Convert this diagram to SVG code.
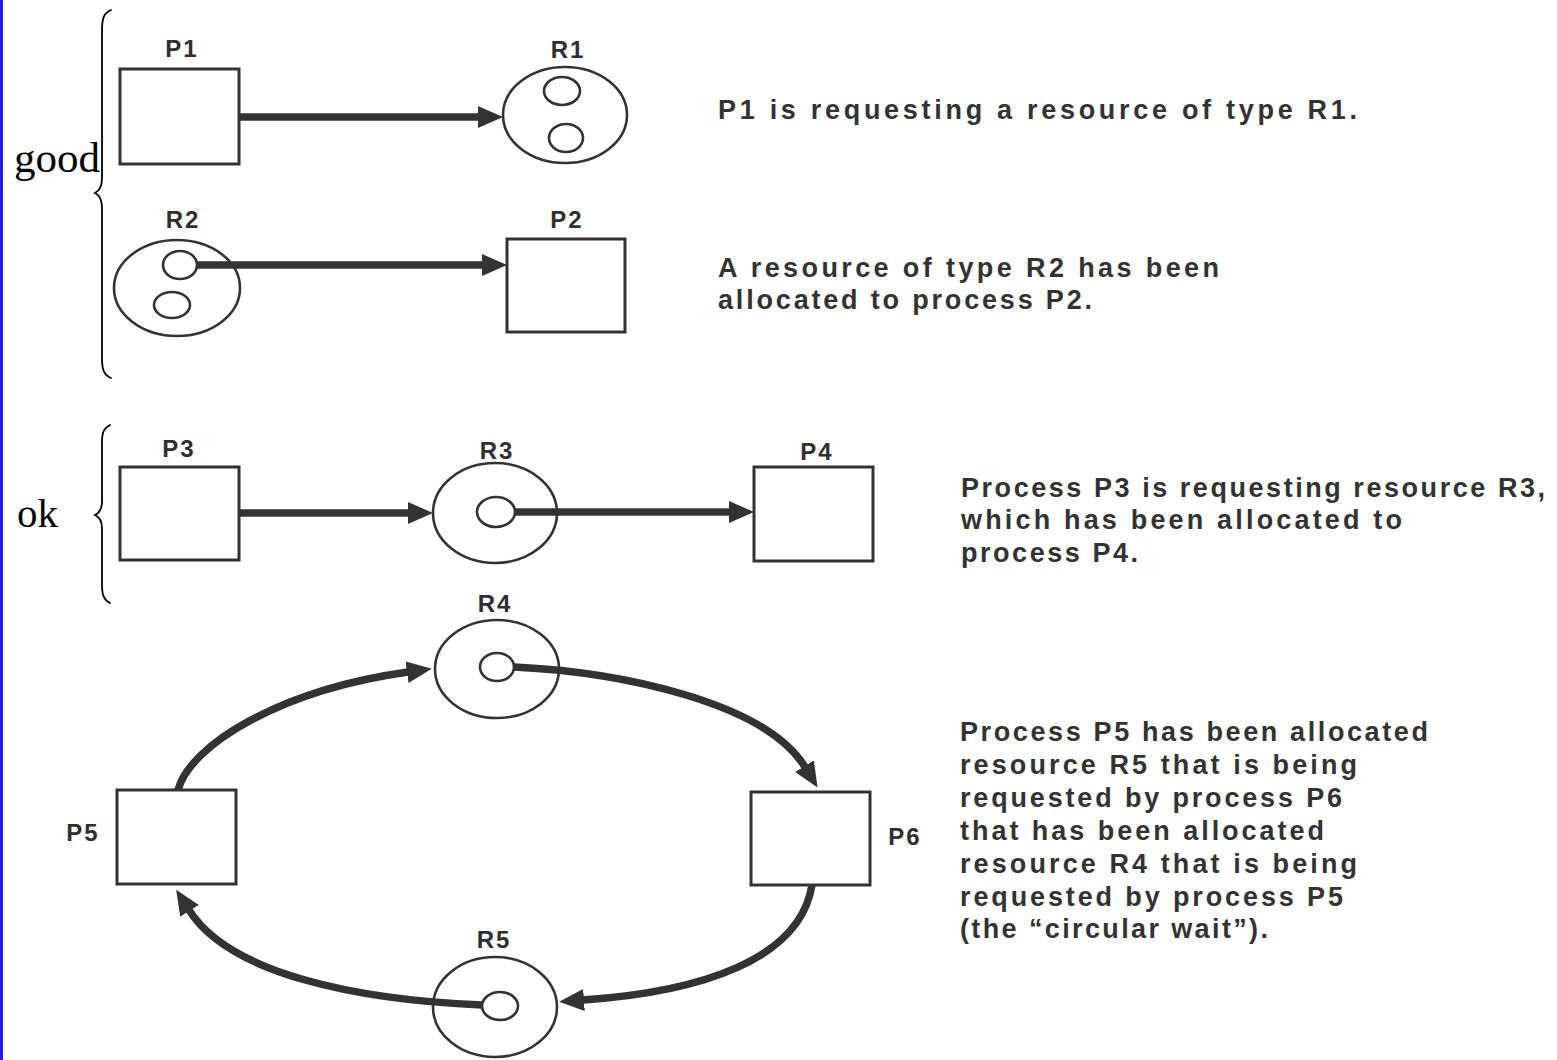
<svg xmlns="http://www.w3.org/2000/svg" width="1557" height="1060" viewBox="0 0 1557 1060">
  <defs>
    <style>
      .box { fill: #ffffff; stroke: #333333; stroke-width: 3; }
      .res { fill: #ffffff; stroke: #333333; stroke-width: 2.6; }
      .unit { fill: #ffffff; stroke: #333333; stroke-width: 2.6; }
      .edge { fill: none; stroke: #333333; stroke-width: 7.5; marker-end: url(#head); }
      .label { font-family: "Liberation Sans", Arial, sans-serif; font-weight: bold; font-size: 24px; fill: #2f2f2f; letter-spacing: 2px; }
      .note { font-family: "Liberation Sans", Arial, sans-serif; font-weight: bold; font-size: 27px; fill: #333333; }
      .hand { font-family: "Liberation Serif", "Times New Roman", serif; fill: #000000; }
      .brace { fill: none; stroke: #000000; stroke-width: 1.8; stroke-linecap: round; }
    </style>
    <marker id="head" viewBox="0 0 25 22" refX="1" refY="11" markerWidth="25" markerHeight="22" markerUnits="userSpaceOnUse" orient="auto">
      <path d="M0,0 L25,11 L0,22 z" fill="#333333"/>
    </marker>
  </defs>

  <rect x="0" y="0" width="1557" height="1060" fill="#ffffff"/>
  <rect x="0" y="0" width="3" height="1060" fill="#1a1aff"/>

  <!-- side annotations -->
  <g id="note-good">
    <path class="brace" d="M111,10 C104,13 102,18 102,30 L102,178 C102,187 99,191 95,193 C99,195 102,199 102,208 L102,358 C102,370 104,375 111,378"/>
    <text class="hand" x="14" y="172" font-size="43">good</text>
  </g>
  <g id="note-ok">
    <path class="brace" d="M110,425 C104,428 102,432 102,442 L102,502 C102,510 99,513 95,515 C99,517 102,520 102,528 L102,585 C102,595 104,600 110,603"/>
    <text class="hand" x="17" y="527" font-size="41">ok</text>
  </g>

  <!-- request edge P1 -> R1 -->
  <g id="P1">
    <rect class="box" x="120" y="69" width="119" height="95"/>
    <text class="label" x="182" y="57" text-anchor="middle">P1</text>
  </g>
  <g id="R1">
    <ellipse class="res" cx="565" cy="115" rx="62" ry="48"/>
    <ellipse class="unit" cx="562" cy="91" rx="18" ry="14"/>
    <ellipse class="unit" cx="566" cy="138" rx="17" ry="14"/>
    <text class="label" x="568" y="58" text-anchor="middle">R1</text>
  </g>

  <!-- assignment edge R2 -> P2 -->
  <g id="R2">
    <ellipse class="res" cx="177" cy="288" rx="63" ry="48"/>
    <ellipse class="unit" cx="180" cy="265" rx="17" ry="14"/>
    <ellipse class="unit" cx="172" cy="305" rx="18" ry="13"/>
    <text class="label" x="183" y="228" text-anchor="middle">R2</text>
  </g>
  <g id="P2">
    <rect class="box" x="507" y="239" width="118" height="93"/>
    <text class="label" x="567" y="228" text-anchor="middle">P2</text>
  </g>

  <!-- P3 waits on R3 held by P4 -->
  <g id="P3">
    <rect class="box" x="120" y="467" width="119" height="93"/>
    <text class="label" x="179" y="457" text-anchor="middle">P3</text>
  </g>
  <g id="R3">
    <ellipse class="res" cx="495" cy="513" rx="62" ry="50"/>
    <ellipse class="unit" cx="496" cy="512" rx="19" ry="15"/>
    <text class="label" x="497" y="459" text-anchor="middle">R3</text>
  </g>
  <g id="P4">
    <rect class="box" x="754" y="467" width="119" height="94"/>
    <text class="label" x="817" y="460" text-anchor="middle">P4</text>
  </g>

  <!-- circular wait -->
  <g id="R4">
    <ellipse class="res" cx="497" cy="669" rx="62" ry="49"/>
    <ellipse class="unit" cx="497" cy="667" rx="17" ry="14"/>
    <text class="label" x="495" y="612" text-anchor="middle">R4</text>
  </g>
  <g id="P5">
    <rect class="box" x="117" y="790" width="119" height="94"/>
    <text class="label" x="83" y="841" text-anchor="middle">P5</text>
  </g>
  <g id="P6">
    <rect class="box" x="751" y="792" width="119" height="93"/>
    <text class="label" x="905" y="845" text-anchor="middle">P6</text>
  </g>
  <g id="R5">
    <ellipse class="res" cx="495" cy="1007" rx="62" ry="50"/>
    <ellipse class="unit" cx="500" cy="1006" rx="18" ry="14"/>
    <text class="label" x="494" y="948" text-anchor="middle">R5</text>
  </g>

  <!-- connectors, drawn over the resource outlines -->
  <g id="connectors">
    <path class="edge" d="M239,117 L479,117"/>
    <path class="edge" d="M197,265 L483,265"/>
    <path class="edge" d="M239,513 L409,513"/>
    <path class="edge" d="M515,512 L730,512"/>
    <path class="edge" d="M178,790 C190,745 280,690 408,672"/>
    <path class="edge" d="M514,667 C620,672 765,702 805,767"/>
    <path class="edge" d="M812,885 C800,960 700,992 583,1000"/>
    <path class="edge" d="M482,1005 C360,1000 230,975 189,910"/>
  </g>

  <!-- explanations -->
  <g id="text-1">
    <text class="note" x="718" y="119" textLength="639" lengthAdjust="spacing">P1 is requesting a resource of type R1.</text>
  </g>
  <g id="text-2">
    <text class="note" x="718" y="277" textLength="501" lengthAdjust="spacing">A resource of type R2 has been</text>
    <text class="note" x="718" y="309" textLength="374" lengthAdjust="spacing">allocated to process P2.</text>
  </g>
  <g id="text-3">
    <text class="note" x="961" y="497" textLength="584" lengthAdjust="spacing">Process P3 is requesting resource R3,</text>
    <text class="note" x="961" y="529" textLength="441" lengthAdjust="spacing">which has been allocated to</text>
    <text class="note" x="961" y="562" textLength="177" lengthAdjust="spacing">process P4.</text>
  </g>
  <g id="text-4">
    <text class="note" x="960" y="741" textLength="468" lengthAdjust="spacing">Process P5 has been allocated</text>
    <text class="note" x="960" y="774" textLength="397" lengthAdjust="spacing">resource R5 that is being</text>
    <text class="note" x="960" y="807" textLength="382" lengthAdjust="spacing">requested by process P6</text>
    <text class="note" x="960" y="840" textLength="364" lengthAdjust="spacing">that has been allocated</text>
    <text class="note" x="960" y="873" textLength="397" lengthAdjust="spacing">resource R4 that is being</text>
    <text class="note" x="960" y="906" textLength="383" lengthAdjust="spacing">requested by process P5</text>
    <text class="note" x="960" y="938" textLength="308" lengthAdjust="spacing">(the “circular wait”).</text>
  </g>
</svg>
